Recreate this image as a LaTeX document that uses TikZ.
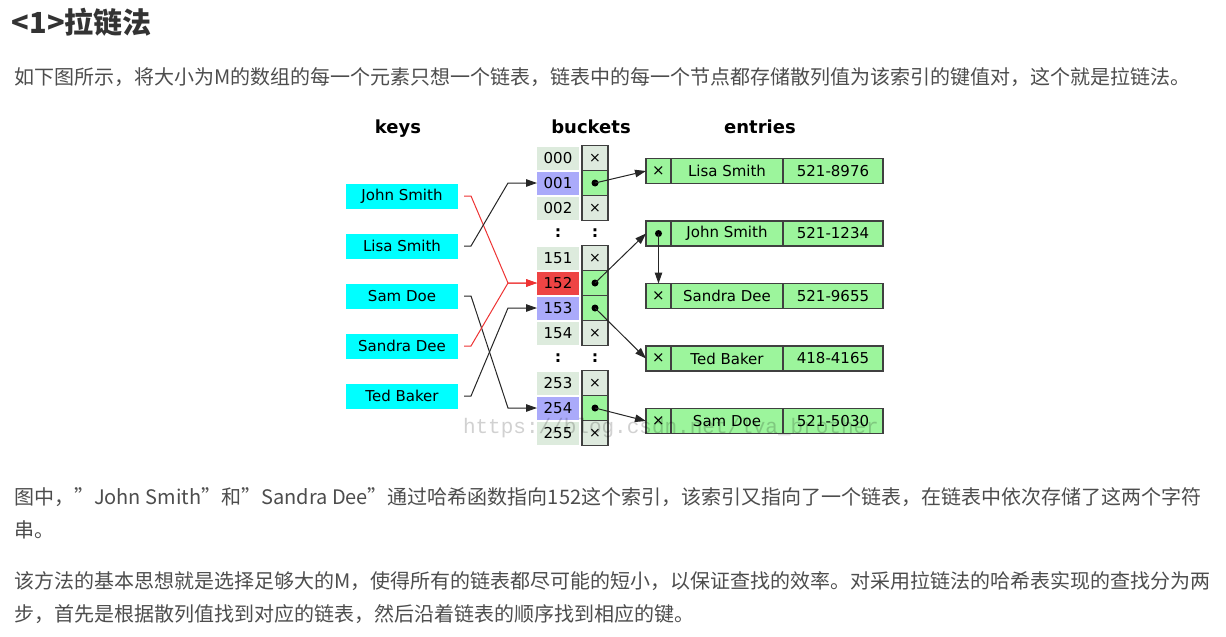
\documentclass[tikz,border=0pt]{standalone}
\usepackage{fontspec}
\setmainfont{DejaVu Sans}
\newfontfamily\cjk{Noto Sans CJK SC}
\newfontfamily\wmfont{Liberation Mono}
\usetikzlibrary{arrows.meta}
\newcommand\fsz[1]{\fontsize{#1}{#1}\selectfont}
\definecolor{keycyan}{HTML}{00FFFF}
\definecolor{idxgray}{HTML}{DDEBDD}
\definecolor{idxblue}{HTML}{AAAAFA}
\definecolor{idxred}{HTML}{EE4444}
\definecolor{emptyc}{HTML}{DEEADE}
\definecolor{fullc}{HTML}{9CF59C}
\definecolor{cellline}{HTML}{404040}
\definecolor{linkgray}{HTML}{262626}
\definecolor{linkred}{HTML}{EE3333}
\definecolor{titlegray}{HTML}{333333}
\definecolor{bodygray}{HTML}{4D4D4D}

\begin{document}
\begin{tikzpicture}[
  x=1pt, y=-1pt,
  every node/.style={inner sep=0pt, outer sep=0pt},
  head/.style={anchor=base, font={\bfseries\fsz{18}}},
  keybox/.style={fill=keycyan, minimum width=112pt, minimum height=25pt, font={\fsz{15}}},
  idx/.style={minimum width=42pt, minimum height=23pt, font={\fsz{15}}},
  cell/.style={draw=cellline, line width=1.2pt, minimum width=26pt, minimum height=25pt, font={\fsz{14}}},
  entry/.style={draw=cellline, line width=1.2pt, fill=fullc, minimum height=25pt, font={\fsz{15}}},
  link/.style={draw=linkgray, line width=1pt, -{Triangle[length=11pt,width=7.5pt]}},
  redlink/.style={link, draw=linkred},
  para/.style={anchor=west, text=bodygray, font={\cjk\fsz{20}}}
]
\useasboundingbox (0,0) rectangle (1226,637);
\fill[white] (0,0) rectangle (1226,637);

% text above and below
\node[anchor=west, text=titlegray, font={\cjk\bfseries\fsz{29}}] (title) at (12,22) {<1>拉链法};
\node[para] (p1) at (14,77) {如下图所示，将大小为M的数组的每一个元素只想一个链表，链表中的每一个节点都存储散列值为该索引的键值对，这个就是拉链法。};
\node[para] (p2a) at (14,497) {图中，”John Smith”和”Sandra Dee”通过哈希函数指向152这个索引，该索引又指向了一个链表，在链表中依次存储了这两个字符};
\node[para] (p2b) at (14,530) {串。};
\node[para] (p3a) at (14,581) {该方法的基本思想就是选择足够大的M，使得所有的链表都尽可能的短小，以保证查找的效率。对采用拉链法的哈希表实现的查找分为两};
\node[para] (p3b) at (14,614) {步，首先是根据散列值找到对应的链表，然后沿着链表的顺序找到相应的键。};

% headers
\node[head] (hkeys) at (398,133) {keys};
\node[head] (hbuckets) at (591,133) {buckets};
\node[head] (hentries) at (760,133) {entries};

% keys
\node[keybox] (kjohn) at (402,196) {John Smith};
\node[keybox] (klisa) at (402,246) {Lisa Smith};
\node[keybox] (ksam) at (402,296) {Sam Doe};
\node[keybox] (ksandra) at (402,346) {Sandra Dee};
\node[keybox] (kted) at (402,396) {Ted Baker};

% buckets
\foreach \lab/\k/\ic/\pc/\sym in {000/0/idxgray/emptyc/×, 001/1/idxblue/fullc/{}, 002/2/idxgray/emptyc/×,
    151/4/idxgray/emptyc/×, 152/5/idxred/fullc/{}, 153/6/idxblue/fullc/{}, 154/7/idxgray/emptyc/×,
    253/9/idxgray/emptyc/×, 254/10/idxblue/fullc/{}, 255/11/idxgray/emptyc/×}
{
  \node[idx, fill=\ic] (b\lab) at (558,{158+25*\k}) {\lab};
  \node[cell, fill=\pc] (p\lab) at (595,{158+25*\k}) {\sym};
}
\foreach \lab in {001,152,153,254}
  \fill (p\lab.center) circle (3.5);
\node[idx, font={\bfseries\fsz{16}}] (gapa) at (558,233) {:};
\node[idx, font={\bfseries\fsz{16}}] (gapb) at (595,233) {:};
\node[idx, font={\bfseries\fsz{16}}] (gapc) at (558,358) {:};
\node[idx, font={\bfseries\fsz{16}}] (gapd) at (595,358) {:};

% entries
\foreach \id/\nm/\num/\yy/\sym in {lisa/Lisa Smith/521-8976/171/×, john/John Smith/521-1234/233.5/{},
    sandra/Sandra Dee/521-9655/296/×, ted/Ted Baker/418-4165/358.5/×, sam/Sam Doe/521-5030/421/×}
{
  \node[entry, minimum width=25pt] (\id-p) at (658.5,\yy) {\sym};
  \node[entry, minimum width=112pt, anchor=west] (\id-k) at (\id-p.east) {\nm};
  \node[entry, minimum width=100pt, anchor=west] (\id-n) at (\id-k.east) {\num};
}
\fill (john-p.center) circle (3.5);

% keys to buckets
\draw[redlink] ([xshift=6]kjohn.east) -- ++(7,0) -- ([xshift=-29]b152.west) -- (b152.west);
\draw[link] ([xshift=6]klisa.east) -- ++(7,0) -- ([xshift=-29]b001.west) -- (b001.west);
\draw[link] ([xshift=6]ksam.east) -- ++(7,0) -- ([xshift=-29]b254.west) -- (b254.west);
\draw[redlink] ([xshift=6]ksandra.east) -- ++(7,0) -- ([xshift=-29]b152.west) -- (b152.west);
\draw[link] ([xshift=6]kted.east) -- ++(7,0) -- ([xshift=-29]b153.west) -- (b153.west);

% buckets to entries
\draw[link] (p001.center) -- (lisa-p.west);
\draw[link] (p152.center) -- (john-p.west);
\draw[link] (john-p.center) -- (sandra-p.north);
\draw[link] (p153.center) -- (ted-p.west);
\draw[link] (p254.center) -- (sam-p.west);

% watermark
\node[anchor=west, text=black, text opacity=0.18, font={\wmfont\fsz{21}}] (wm) at (463,428) {https://blog.csdn.net/lva\_brother};
\end{tikzpicture}
\end{document}
